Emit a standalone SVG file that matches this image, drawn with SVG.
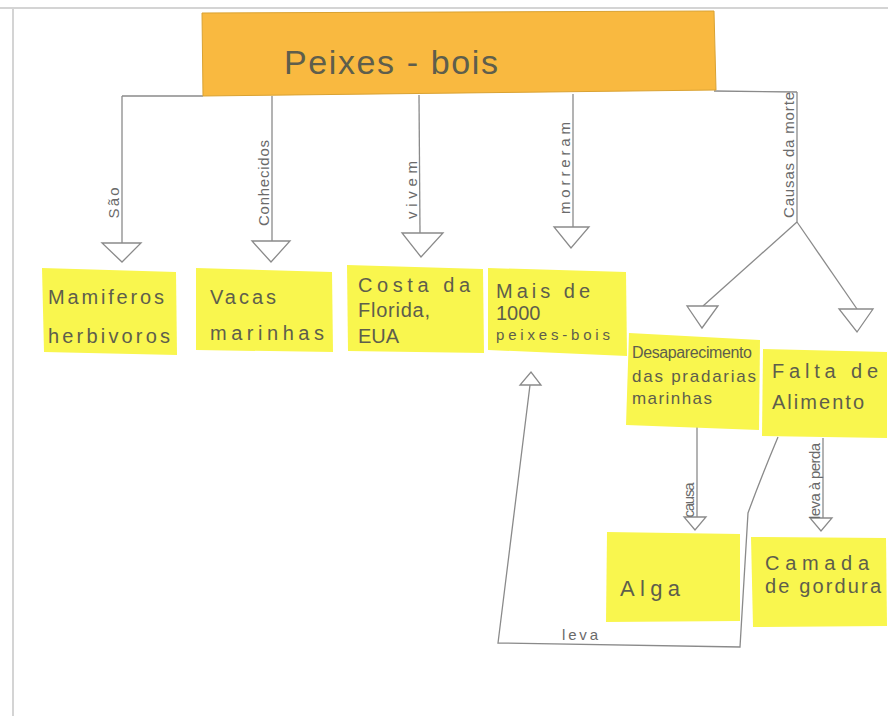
<svg xmlns="http://www.w3.org/2000/svg" width="888" height="716" viewBox="0 0 888 716">
<style>
.bg{fill:#ffffff}
.frame{stroke:#d4d4d4;stroke-width:2;fill:none}
.ln{stroke:#8a8a8a;stroke-width:1.3;fill:none}
.tri{stroke:#8a8a8a;stroke-width:1.3;fill:#ffffff}
.note{fill:#f9f64e}
.title{fill:#f9b940;stroke:#d9a233;stroke-width:1}
.t{font-family:"Liberation Sans",Arial,sans-serif;fill:#5e5e4c}
.nt{font-size:20px}
.lb{font-size:15px;fill:#6a6a6a;font-family:"Liberation Sans",Arial,sans-serif}
</style>
<rect class="bg" x="0" y="0" width="888" height="716"/>
<line class="frame" x1="0" y1="8" x2="888" y2="8"/>
<line class="frame" x1="13" y1="8" x2="13" y2="716"/>

<g id="connectors">
  <line class="ln" x1="122" y1="96" x2="203" y2="96"/>
  <line class="ln" x1="714" y1="91" x2="797" y2="92"/>
  <line class="ln" x1="122" y1="96" x2="122" y2="243"/>
  <polygon class="tri" points="102,243 141,243 122,262"/>
  <text class="lb" transform="translate(119,203) rotate(-90)" text-anchor="middle" textLength="31">São</text>
  <line class="ln" x1="272" y1="96" x2="272" y2="241"/>
  <polygon class="tri" points="252,241 290,241 271,262"/>
  <text class="lb" transform="translate(269,183) rotate(-90)" text-anchor="middle" textLength="86">Conhecidos</text>
  <line class="ln" x1="419" y1="95" x2="420" y2="233"/>
  <polygon class="tri" points="402,233 443,233 421,257"/>
  <text class="lb" transform="translate(417,190) rotate(-90)" text-anchor="middle" textLength="58">vivem</text>
  <line class="ln" x1="573" y1="94" x2="573" y2="227"/>
  <polygon class="tri" points="554,227 589,227 571,248"/>
  <text class="lb" transform="translate(570,168) rotate(-90)" text-anchor="middle" textLength="92">morreram</text>
  <line class="ln" x1="797" y1="92" x2="797" y2="222"/>
  <text class="lb" transform="translate(794,155) rotate(-90)" text-anchor="middle" textLength="126">Causas da morte</text>
  <line class="ln" x1="797" y1="222" x2="703" y2="306"/>
  <line class="ln" x1="797" y1="222" x2="857" y2="309"/>
  <polygon class="tri" points="687,306 718,306 702,328"/>
  <polygon class="tri" points="839,309 873,309 857,332"/>
  <line class="ln" x1="697" y1="425" x2="697" y2="517"/>
  <polygon class="tri" points="684,517 706,517 695,530"/>
  <text class="lb" transform="translate(694,500) rotate(-90)" text-anchor="middle" font-size="12" textLength="35">causa</text>
  <line class="ln" x1="823" y1="438" x2="823" y2="518"/>
  <polygon class="tri" points="810,518 832,518 821,531"/>
  <text class="lb" transform="translate(820,481) rotate(-90)" text-anchor="middle" font-size="12" textLength="76">leva à perda</text>
  <path class="ln" d="M778,437 Q760,480 748,513 L740,647 L498,643 L530,385"/>
  <polygon class="tri" points="520,385 541,385 531,372"/>
  <text class="lb" x="562" y="640" textLength="36">leva</text>
</g>

<g id="title">
  <polygon class="title" points="202,13 714,11 716,90 203,96"/>
  <text class="t" x="284" y="74" font-size="34" fill="#6a5a3a" textLength="214">Peixes - bois</text>
</g>

<g id="n-mamiferos">
  <polygon class="note" points="42,268 176,272 177,355 44,352"/>
  <text class="t nt" x="48" y="304" textLength="116">Mamiferos</text>
  <text class="t nt" x="48" y="343" textLength="122">herbivoros</text>
</g>
<g id="n-vacas">
  <polygon class="note" points="196,268 332,272 333,352 196,350"/>
  <text class="t nt" x="210" y="304" textLength="66">Vacas</text>
  <text class="t nt" x="210" y="340" textLength="114">marinhas</text>
</g>
<g id="n-costa">
  <polygon class="note" points="347,265 483,269 484,353 348,351"/>
  <text class="t nt" x="358" y="292" textLength="112">Costa da</text>
  <text class="t nt" x="358" y="317" textLength="72">Florida,</text>
  <text class="t nt" x="358" y="343">EUA</text>
</g>
<g id="n-mais">
  <polygon class="note" points="488,268 626,272 627,356 488,350"/>
  <text class="t nt" x="496" y="298" textLength="94">Mais de</text>
  <text class="t nt" x="496" y="320">1000</text>
  <text class="t" x="496" y="340" font-size="15" textLength="114">peixes-bois</text>
</g>
<g id="n-desaparecimento">
  <polygon class="note" points="629,333 760,340 759,430 626,425"/>
  <text class="t" x="632" y="358" font-size="16" textLength="120">Desaparecimento</text>
  <text class="t" x="632" y="382" font-size="17" textLength="124">das pradarias</text>
  <text class="t" x="632" y="404" font-size="17" textLength="80">marinhas</text>
</g>
<g id="n-falta">
  <polygon class="note" points="763,349 887,352 887,438 762,436"/>
  <text class="t nt" x="772" y="378" textLength="106">Falta de</text>
  <text class="t nt" x="772" y="409" textLength="92">Alimento</text>
</g>
<g id="n-alga">
  <polygon class="note" points="607,532 740,534 740,621 606,622"/>
  <text class="t" x="620" y="596" font-size="22" textLength="60">Alga</text>
</g>
<g id="n-camada">
  <polygon class="note" points="751,537 886,538 887,626 753,627"/>
  <text class="t nt" x="765" y="570" textLength="104">Camada</text>
  <text class="t nt" x="765" y="593" textLength="116">de gordura</text>
</g>
</svg>
